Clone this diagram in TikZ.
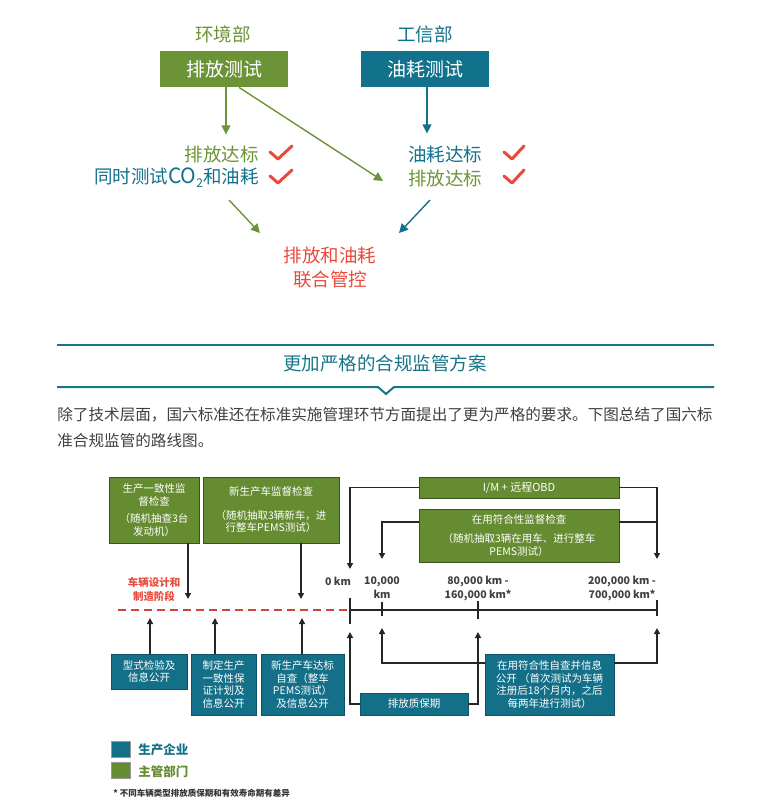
\documentclass[tikz,border=0pt]{standalone}
\usepackage{fontspec}
\setmainfont{Noto Sans CJK SC}
\usetikzlibrary{arrows.meta}

\definecolor{hjgreen}{RGB}{108,148,54}
\definecolor{gxblue}{RGB}{18,114,140}
\definecolor{zgreen}{RGB}{102,140,50}
\definecolor{zblue}{RGB}{20,112,136}
\definecolor{lkred}{RGB}{232,74,60}
\definecolor{lineteal}{RGB}{22,118,136}
\definecolor{txtgray}{RGB}{64,64,64}
\newcommand{\fsz}[2]{\fontsize{#1}{#2}\selectfont}

\tikzset{every picture/.style={line width=0.75pt}}
\tikzset{
	topbox/.style={minimum width=128pt, minimum height=36pt, inner sep=0pt, text=white, font=\fsz{19}{23}},
	toptxt/.style={font=\fsz{18.5}{24}, inner sep=0pt},
	tarrow/.style={line width=1.4pt, -{Triangle[length=9pt,width=9pt]}},
	chk/.style={draw=lkred, line width=3pt, line cap=round, line join=round},
	gbox/.style={fill=zgreen, draw=zgreen!60!black, line width=0.8pt, text=white, align=center, inner sep=0pt, font=\fsz{10.5}{12.5}},
	bbox/.style={fill=zblue, draw=zblue!75!black, line width=0.8pt, text=white, align=center, inner sep=0pt, font=\fsz{10.5}{12.5}},
	bline/.style={line width=1.6pt, draw=black!85},
	barrow/.style={bline, -{Triangle[length=6pt,width=6pt]}},
	kmlabel/.style={font=\bfseries\fsz{10.5}{14}, text=txtgray, align=center, inner sep=0pt},
	legsq/.style={minimum width=19pt, minimum height=16pt, inner sep=0pt, draw=black!40, line width=0.5pt},
}

\begin{document}
\begin{tikzpicture}[x=1pt,y=1pt,yscale=-1,xscale=1]
	\useasboundingbox (0,0) rectangle (758,807);

	% Text Node
	\draw (223,34) node [toptxt, text=hjgreen] (hjb) {环境部};
	% Text Node
	\draw (425,34) node [toptxt, text=gxblue] (gxb) {工信部};
	%Shape: Rectangle
	\draw (224,69) node [topbox, fill=hjgreen] (pfcs) {排放测试};
	%Shape: Rectangle
	\draw (425,69) node [topbox, fill=gxblue] (yhcs) {油耗测试};

	% Text Node
	\draw (259,154) node [toptxt, anchor=east, text=hjgreen] (pfdba) {排放达标};
	% Text Node
	\draw (259,178) node [toptxt, anchor=east, text=gxblue] (celh) {同时测试{\fsz{21}{24}CO}\raisebox{-0.4ex}{\fsz{12}{12}2}和油耗};
	% Text Node
	\draw (408,154) node [toptxt, anchor=west, text=gxblue] (yhdb) {油耗达标};
	% Text Node
	\draw (408,178) node [toptxt, anchor=west, text=hjgreen] (pfdbb) {排放达标};
	% Text Node
	\draw (330,268) node [toptxt, text=lkred, align=center] (lhgk) {排放和油耗\\联合管控};

	%Check marks
	\draw [chk] (270,152) -- (278,159) -- (292,146) ;
	\draw [chk] (270,176) -- (278,183) -- (292,170) ;
	\draw [chk] (504,152) -- (512,159) -- (524,146) ;
	\draw [chk] (504,176) -- (512,183) -- (524,170) ;

	\coordinate (pfend) at (383,181);
	\coordinate (lstart) at (229,200);
	\coordinate (lend) at (260,233);
	\coordinate (rstart) at (430,200);
	\coordinate (rend) at (399,233);
	\draw [tarrow, hjgreen] ([xshift=2pt]pfcs.south) -- ++(0,47) ;
	\draw [tarrow, hjgreen] ([xshift=15pt]pfcs.south) -- (pfend) ;
	\draw [tarrow, gxblue] ([xshift=2pt]yhcs.south) -- ++(0,46) ;
	\draw [tarrow, hjgreen] (lstart) -- (lend) ;
	\draw [tarrow, gxblue] (rstart) -- (rend) ;

	% Heading rules
	\draw [line width=2pt, lineteal] (57,345) -- (714,345) ;
	\draw [line width=2pt, lineteal] (57,387) -- (378,387) -- (386,394) -- (394,387) -- (714,387) ;
	% Text Node
	\draw (385,363) node [font=\fsz{18.5}{22}, text=lineteal] (title) {更加严格的合规监管方案};
	% Text Node
	\draw (57,415) node [anchor=west, inner sep=0pt, font=\fsz{15.6}{20}, text=txtgray] (para) {除了技术层面，国六标准还在标准实施管理环节方面提出了更为严格的要求。下图总结了国六标};
	% Text Node
	\draw (57,441) node [anchor=west, inner sep=0pt, font=\fsz{15.6}{20}, text=txtgray] (parb) {准合规监管的路线图。};

	%Green boxes
	\draw (154,510) node [gbox, minimum width=90pt, minimum height=66pt] (scyz) {生产一致性监\\督检查\\[5pt]（随机抽查3台\\发动机）};
	\draw (271,510) node [gbox, minimum width=136pt, minimum height=66pt] (xscc) {新生产车监督检查\\[11pt]（随机抽取3辆新车，进\\行整车PEMS测试）};
	\draw (519,487.5) node [gbox, minimum width=200pt, minimum height=21pt, font=\fsz{11}{12.5}] (imobd) {I/M + 远程OBD};
	\draw (519,535.5) node [gbox, minimum width=200pt, minimum height=53pt] (zyfh) {在用符合性监督检查\\[7pt]（随机抽取3辆在用车、进行整车\\PEMS测试）};

	%Blue boxes
	\draw (149,671.5) node [bbox, minimum width=76pt, minimum height=35pt] (xsjy) {型式检验及\\信息公开};
	\draw (223.5,684.5) node [bbox, minimum width=65pt, minimum height=61pt] (zdsc) {制定生产\\一致性保\\证计划及\\信息公开};
	\draw (302.5,684.5) node [bbox, minimum width=83pt, minimum height=61pt] (xsdb) {新生产车达标\\自查（整车\\PEMS测试）\\及信息公开};
	\draw (414,704) node [bbox, minimum width=108pt, minimum height=22pt] (pfzb) {排放质保期};
	\draw (549.5,684.5) node [bbox, minimum width=129pt, minimum height=61pt] (zyzc) {在用符合性自查并信息\\公开 （首次测试为车辆\\注册后18个月内，之后\\每两年进行测试）};

	%Time line
	\coordinate (ta) at (350,610);
	\coordinate (tb) at (382,610);
	\coordinate (tc) at (478,610);
	\coordinate (td) at (657,610);
	\draw [line width=2pt, lkred!90!black, dash pattern=on 8pt off 5pt] (118,610) -- (ta) ;
	\draw [bline] (ta) -- (td) ;
	\draw [bline] (350,598) -- (350,624) ;
	\draw [bline] (382,602) -- (382,616) ;
	\draw [bline] (478,601) -- (478,619) ;
	\draw [bline] (657,600) -- (657,616) ;

	% Text Node
	\draw (154,589) node [kmlabel, text=lkred] (sjzz) {车辆设计和\\制造阶段};
	\draw (338,581) node [kmlabel] (kma) {0 km};
	\draw (382,588) node [kmlabel] (kmb) {10,000\\km};
	\draw (478,588) node [kmlabel] (kmc) {80,000 km -\\160,000 km*};
	\draw (622,588) node [kmlabel] (kmd) {200,000 km -\\700,000 km*};

	%Arrows from above
	\coordinate (ua) at (188,599);
	\coordinate (ub) at (301,599);
	\coordinate (uc) at (350,569);
	\coordinate (ud) at (382,559);
	\coordinate (ue) at (657,559);
	\coordinate (uj) at (657,522);
	\draw [barrow] (ua |- scyz.south) -- (ua) ;
	\draw [barrow] (ub |- xscc.south) -- (ub) ;
	\draw [barrow] (imobd.west) -| (uc) ;
	\draw [barrow] (imobd.east) -| (ue) ;
	\draw [bline] (zyfh.east |- uj) -- (uj) ;
	\draw [barrow] (zyfh.west |- uj) -| (ud) ;

	%Arrows from below
	\coordinate (da) at (150,618);
	\coordinate (db) at (215,618);
	\coordinate (dc) at (302,618);
	\coordinate (dd) at (350,632);
	\coordinate (de) at (478,632);
	\coordinate (df) at (382,628);
	\coordinate (dg) at (657,628);
	\coordinate (dj) at (382,663);
	\draw [barrow] (da |- xsjy.north) -- (da) ;
	\draw [barrow] (db |- zdsc.north) -- (db) ;
	\draw [barrow] (dc |- xsdb.north) -- (dc) ;
	\draw [barrow] (pfzb.west) -| (dd) ;
	\draw [barrow] (pfzb.east) -| (de) ;
	\draw [barrow] (zyzc.west |- dj) -| (df) ;
	\draw [barrow] (zyzc.east |- dj) -| (dg) ;

	%Legend
	\draw (120.5,749) node [legsq, fill=zblue] (lga) {};
	\draw (120.5,770.5) node [legsq, fill=zgreen] (lgb) {};
	\draw (138,750) node [anchor=west, inner sep=0pt, font=\bfseries\fsz{12.5}{14}, text=zblue] (lgat) {生产企业};
	\draw (138,772) node [anchor=west, inner sep=0pt, font=\bfseries\fsz{12.5}{14}, text=zgreen] (lgbt) {主管部门};
	% Text Node
	\draw (113,793) node [anchor=west, inner sep=0pt, font=\bfseries\fsz{8.5}{10}, text=black!80] (note) {* 不同车辆类型排放质保期和有效寿命期有差异};

\end{tikzpicture}
\end{document}
